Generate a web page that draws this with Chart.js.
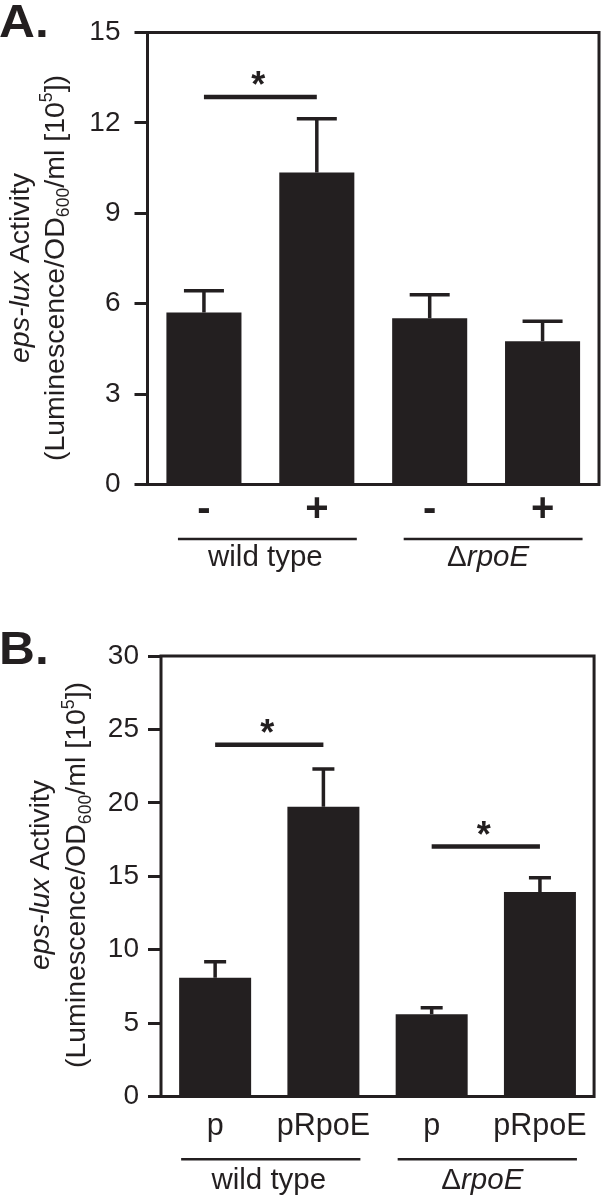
<!DOCTYPE html>
<html><head><meta charset="utf-8">
<script src="https://cdn.jsdelivr.net/npm/chart.js@4.4.1/dist/chart.umd.min.js"></script>
<style>
html,body{margin:0;padding:0;background:#fff;width:602px;height:1195px;overflow:hidden;}
canvas{position:absolute;left:0;display:block;}
#cA{top:0;}
#cB{top:597px;}
</style></head><body>
<canvas id="cA" width="602" height="597"></canvas>
<canvas id="cB" width="602" height="598"></canvas>
<script>
// ---------- DATA ----------
// Panel A
const categoriesA = ['-', '+', '-', '+'];
const valuesA = [5.71, 10.35, 5.52, 4.75];
const errorsA = [0.72, 1.79, 0.78, 0.67];
const groupNamesA = ['wild type', 'ΔrpoE'];
const groupMembersA = [[0, 1], [2, 3]];
const sigPairsA = [[0, 1]];
const sigLevelsA = [12.86];
const yMaxA = 15, yStepA = 3;

// Panel B
const categoriesB = ['p', 'pRpoE', 'p', 'pRpoE'];
const valuesB = [8.09, 19.74, 5.60, 13.93];
const errorsB = [1.09, 2.57, 0.45, 0.97];
const groupNamesB = ['wild type', 'ΔrpoE'];
const groupMembersB = [[0, 1], [2, 3]];
const sigPairsB = [[0, 1], [2, 3]];
const sigLevelsB = [23.96, 17.02];
const yMaxB = 30, yStepB = 5;

// Axis title text (rich segments)
const titleLine1 = [{t: 'eps-lux', italic: true}, {t: ' Activity'}];
const titleLine2 = [{t: '(Luminescence/OD'}, {t: '600', sub: true}, {t: '/ml [10'}, {t: '5', sup: true}, {t: '])'}];

// ---------- STYLE ----------
const INK = '#231f20';
const FAMILY = '"Liberation Sans", Arial, Helvetica, sans-serif';
const fnt = (size, weight = 'normal', style = 'normal') => `${style} ${weight} ${size}px ${FAMILY}`;

function drawRich(c, segs, size, baselineY) {
  const parts = segs.map(s => {
    const fs = (s.sub || s.sup) ? size * 0.62 : size;
    c.font = fnt(fs, 'normal', s.italic ? 'italic' : 'normal');
    return {s, fs, w: c.measureText(s.t).width};
  });
  const total = parts.reduce((a, p) => a + p.w, 0);
  let x = -total / 2;
  c.textAlign = 'left';
  c.textBaseline = 'alphabetic';
  parts.forEach(p => {
    c.font = fnt(p.fs, 'normal', p.s.italic ? 'italic' : 'normal');
    const dy = p.s.sub ? size * 0.2 : p.s.sup ? -size * 0.4 : 0;
    c.fillText(p.s.t, x, baselineY + dy);
    x += p.w;
  });
}

function makePanel(p) {
  const canvas = document.getElementById(p.id);
  const W = canvas.width, H = canvas.height;
  const overlay = {
    id: 'overlay' + p.id,
    afterDatasetsDraw(chart) {
      const c = chart.ctx, a = chart.chartArea, xs = chart.scales.x, ys = chart.scales.y;
      c.save();
      c.strokeStyle = INK; c.fillStyle = INK; c.lineCap = 'butt';
      // error bars (upper only)
      c.lineWidth = 3.5;
      p.values.forEach((v, i) => {
        const x = xs.getPixelForValue(i);
        const y0 = ys.getPixelForValue(v), y1 = ys.getPixelForValue(v + p.errors[i]);
        c.beginPath();
        c.moveTo(x, y0); c.lineTo(x, y1);
        c.moveTo(x - p.capHalf, y1); c.lineTo(x + p.capHalf, y1);
        c.stroke();
      });
      // frame
      c.lineWidth = 3;
      c.strokeRect(a.left, a.top, a.right - a.left, a.bottom - a.top);
      // significance bars + stars
      p.sigPairs.forEach(([i, j], k) => {
        const y = ys.getPixelForValue(p.sigLevels[k]);
        const x0 = xs.getPixelForValue(i), x1 = xs.getPixelForValue(j);
        c.lineWidth = 4.5;
        c.beginPath(); c.moveTo(x0, y); c.lineTo(x1, y); c.stroke();
        c.font = fnt(36, 'bold');
        c.textAlign = 'center'; c.textBaseline = 'alphabetic';
        c.fillText('*', (x0 + x1) / 2 - 2, y);
      });
      // group lines + labels
      p.groupMembers.forEach((m, g) => {
        const x0 = xs.getPixelForValue(m[0]) + p.grpStart;
        const x1 = xs.getPixelForValue(m[m.length - 1]) + p.grpEnd;
        const yl = a.bottom + p.grpLineDy;
        c.lineWidth = 2.5;
        c.beginPath(); c.moveTo(x0, yl); c.lineTo(x1, yl); c.stroke();
        const name = p.groupNames[g];
        const segs = name.startsWith('Δ') ? [{t: 'Δ'}, {t: name.slice(1), italic: true}] : [{t: name}];
        c.save();
        c.translate((x0 + x1) / 2 + (name.startsWith('Δ') ? -5 : -2), 0);
        drawRich(c, segs, 29.5, a.bottom + p.grpLabelDy);
        c.restore();
      });
      // y-axis title (rotated, two lines)
      const yc = p.titleY;
      [[titleLine1, p.title1X], [titleLine2, p.title2X]].forEach(([segs, xb]) => {
        c.save();
        c.translate(xb, yc);
        c.rotate(-Math.PI / 2);
        drawRich(c, segs, 28.5, 0);
        c.restore();
      });
      // panel letter
      c.font = fnt(46, 'bold');
      c.textAlign = 'left'; c.textBaseline = 'alphabetic';
      c.save();
      c.translate(-1, p.letterY);
      c.scale(1.08, 1);
      c.fillText(p.letter, 0, 0);
      c.restore();
      c.restore();
    }
  };

  return new Chart(canvas, {
    type: 'bar',
    data: {
      labels: p.categories,
      datasets: [{
        data: p.values,
        backgroundColor: INK,
        borderWidth: 0,
        barPercentage: 0.665,
        categoryPercentage: 1.0
      }]
    },
    options: {
      responsive: false,
      animation: false,
      events: [],
      layout: {padding: {left: 0, top: p.top, right: W - p.right, bottom: 0}},
      plugins: {legend: {display: false}, tooltip: {enabled: false}, title: {display: false}},
      scales: {
        x: {
          type: 'category',
          offset: true,
          grid: {display: false, drawTicks: false},
          border: {display: false},
          ticks: {color: INK, font: p.xFont, padding: p.xPad, maxRotation: 0, autoSkip: false},
          afterFit: s => { s.height = H - p.bottom; }
        },
        y: {
          min: 0, max: p.yMax,
          ticks: {stepSize: p.yStep, color: INK, font: {family: FAMILY, size: 28, lineHeight: 1}, padding: p.yPad},
          grid: {display: true, drawOnChartArea: false, drawTicks: true, tickLength: 13, lineWidth: 3, tickWidth: 3, tickColor: INK, color: INK},
          border: {display: false},
          afterFit: s => { s.width = p.left; }
        }
      }
    },
    plugins: [overlay]
  });
}

makePanel({
  id: 'cA', letter: 'A.', letterY: 37,
  categories: categoriesA, values: valuesA, errors: errorsA,
  groupNames: groupNamesA, groupMembers: groupMembersA,
  sigPairs: sigPairsA, sigLevels: sigLevelsA,
  yMax: yMaxA, yStep: yStepA,
  left: 147.5, right: 599, top: 32.5, bottom: 484.5,
  capHalf: 20, yPad: 14,
  xFont: {family: FAMILY, size: 40, weight: 'bold', lineHeight: 1}, xPad: 5.5,
  grpStart: -26, grpEnd: 40, grpLineDy: 54.5, grpLabelDy: 81.5,
  title1X: 29, title2X: 63.5, titleY: 268
});

makePanel({
  id: 'cB', letter: 'B.', letterY: 67,
  categories: categoriesB, values: valuesB, errors: errorsB,
  groupNames: groupNamesB, groupMembers: groupMembersB,
  sigPairs: sigPairsB, sigLevels: sigLevelsB,
  yMax: yMaxB, yStep: yStepB,
  left: 161, right: 598.5, top: 59, bottom: 499.5,
  capHalf: 11, yPad: 9,
  xFont: {family: FAMILY, size: 30.5, lineHeight: 1}, xPad: 15,
  grpStart: -34, grpEnd: 37, grpLineDy: 62.8, grpLabelDy: 92.5,
  title1X: 48.5, title2X: 85, titleY: 278
});
</script>
</body></html>
